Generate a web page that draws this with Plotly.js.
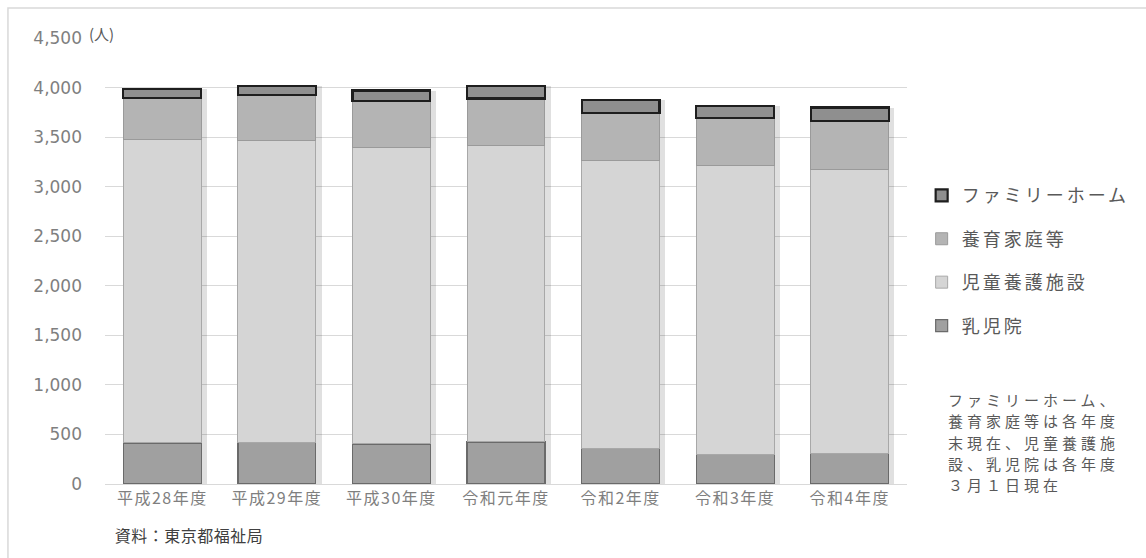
<!DOCTYPE html>
<html>
<head>
<meta charset="utf-8">
<script src="https://cdn.plot.ly/plotly-3.0.1.min.js"></script>
<style>
html,body{margin:0;padding:0;background:#fff}
#chart{width:1146px;height:558px}
.legendtext{letter-spacing:3px}
.xtick text{letter-spacing:1.5px}
.annotation text{letter-spacing:4px}
.annotation[data-index="0"] text{letter-spacing:0}
.annotation[data-index="1"] text{letter-spacing:0.5px}
</style>
</head>
<body>
<div id="chart"></div>
<script>
const categories = ['平成28年度','平成29年度','平成30年度','令和元年度','令和2年度','令和3年度','令和4年度'];
const nyujiin = [414, 417, 404, 424, 356, 296, 310];
const jidoYogo = [3064, 3047, 2994, 2990, 2906, 2913, 2859];
const yoikuKatei = [414, 458, 470, 475, 485, 484, 497];
const familyHome = [92, 90, 102, 130, 125, 120, 132];
const seriesNames = ['乳児院','児童養護施設','養育家庭等','ファミリーホーム'];
const yTicks = [0,500,1000,1500,2000,2500,3000,3500,4000,4500];
const noteLines = ['ファミリーホーム、','養育家庭等は各年度','末現在、児童養護施','設、乳児院は各年度','３月１日現在'];
const sourceText = '資料：東京都福祉局';
const unitText = '(人)';

const totals = categories.map((c,i)=>nyujiin[i]+jidoYogo[i]+yoikuKatei[i]+familyHome[i]);
const font = '"Noto Sans CJK JP", "Noto Sans", sans-serif';
const txt = '#595959';

const shadow = {
  type:'bar', x:categories, y:totals, xaxis:'x', yaxis:'y',
  width:0.68, offset:-0.34+0.05,
  marker:{color:'rgba(0,0,0,0.12)', line:{width:0}},
  showlegend:false, hoverinfo:'skip'
};
function bar(name, vals, color, lcolor, lw, rank){
  return {type:'bar', name:name, x:categories, y:vals, xaxis:'x2', yaxis:'y2',
    legendgroup:name, legendrank:rank, width:0.68,
    marker:{color:color, line:{color:lcolor, width:lw}}};
}
const data = [
  shadow,
  bar(seriesNames[0], nyujiin, '#a0a0a0', '#6a6a6a', 1.2, 4),
  bar(seriesNames[1], jidoYogo, '#d5d5d5', '#a8a8a8', 1, 3),
  bar(seriesNames[2], yoikuKatei, '#b4b4b4', '#9a9a9a', 1, 2),
  bar(seriesNames[3], familyHome, '#8f8f8f', '#1e1e1e', 2.2, 1)
];

const plotTop = 38, plotH = 446;
const annotations = [
  {text:unitText, xref:'paper', yref:'paper', x:-0.022, y:1.01, xanchor:'left', yanchor:'middle', showarrow:false,
    font:{size:15, color:txt}},
  {text:sourceText, xref:'paper', yref:'paper', x:0.012, y:-0.115, xanchor:'left', yanchor:'middle',
    showarrow:false, font:{size:16, color:'#404040'}}
];
noteLines.forEach((t,i)=>{
  const yc = 399 + i*21.5;
  annotations.push({text:t, xref:'paper', yref:'paper', x:1.0486, y:(plotTop+plotH-yc)/plotH,
    xanchor:'left', yanchor:'middle', align:'left', showarrow:false, font:{size:15, color:txt}});
});

const layout = {
  width:1146, height:558,
  margin:{l:105, r:238, t:plotTop, b:74},
  paper_bgcolor:'#fff', plot_bgcolor:'#fff',
  barmode:'stack',
  font:{family:font, color:txt, size:15},
  xaxis:{type:'category', range:[-0.5,6.5], showgrid:false, showline:true, linecolor:'#d9d9d9', linewidth:1,
    ticks:'', tickfont:{size:16, color:'#7f7f7f'}, fixedrange:true},
  yaxis:{range:[0,4500], tickvals:yTicks, ticktext:yTicks.map(v=>v.toLocaleString('en-US')),
    showgrid:true, gridcolor:'#d9d9d9', gridwidth:1, zeroline:false, showline:false, ticks:'',
    ticklen:0, ticklabelstandoff:22, tickfont:{size:17, color:'#7f7f7f', family:'"DejaVu Sans", sans-serif'}, fixedrange:true},
  xaxis2:{type:'category', overlaying:'x', range:[-0.5,6.5], showgrid:false, showline:false, showticklabels:false, ticks:''},
  yaxis2:{overlaying:'y', range:[0,4500], showgrid:false, zeroline:false, showticklabels:false, ticks:''},
  showlegend:true,
  legend:{x:1.017, y:0.688, xanchor:'left', yanchor:'top', traceorder:'grouped', tracegroupgap:17,
    font:{size:18, color:txt, family:font}, itemwidth:30, bgcolor:'rgba(0,0,0,0)'},
  annotations:annotations,
  shapes:[
    {type:'rect', xref:'paper', yref:'paper', x0:-0.121, x1:1.32, y0:-0.2, y1:1.067,
      line:{color:'#d9d9d9', width:1.5}, fillcolor:'rgba(0,0,0,0)', layer:'below'}
  ]
};
Plotly.newPlot('chart', data, layout, {displayModeBar:false, staticPlot:true});
</script>
</body>
</html>
